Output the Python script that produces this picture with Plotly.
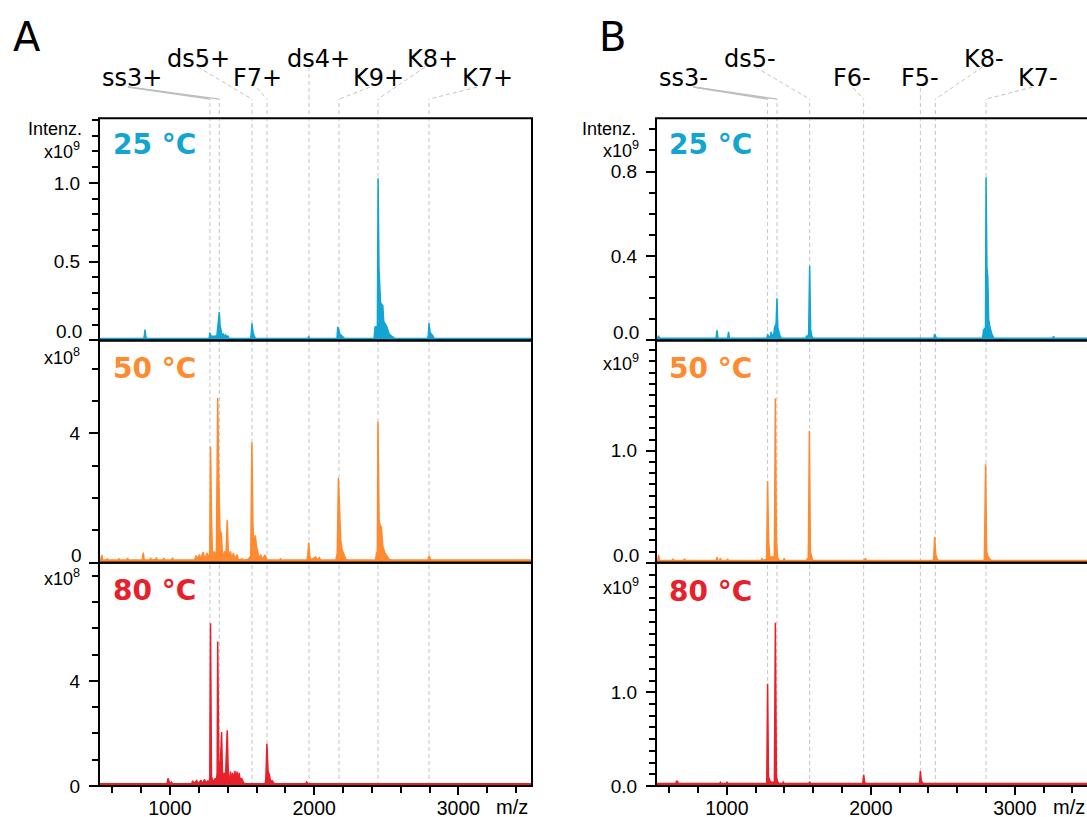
import plotly.graph_objects as go

W, H = 1087, 817          # target picture size
FIG_H = 829               # rendered figure height (page is squeezed to 817 when photographed)

BLUE = "#12a5d4"
ORANGE = "#ff8a30"
RED = "#e8202c"
GRID_GREY = "#c4c4c4"

# ---------------- data ----------------
MZ_RANGE_A = [508, 3510]
MZ_RANGE_B = [508, 3501]
X_TICKS = [1000, 2000, 3000]
X_TICK_TEXT = ["1000", "2000", "3000"]

# Panel A (positive mode) spectra: (m/z, intensity)
A25 = [(508, 0.012), (818, 0.012), (822, 0.03), (827, 0.068), (832, 0.03), (836, 0.012),
       (1268, 0.012), (1273, 0.02), (1277, 0.05), (1282, 0.03), (1300, 0.025), (1325, 0.03),
       (1331, 0.08), (1342, 0.18), (1348, 0.09), (1354, 0.05), (1362, 0.03), (1370, 0.04),
       (1378, 0.025), (1386, 0.035), (1395, 0.02), (1402, 0.03), (1410, 0.012),
       (1558, 0.012), (1563, 0.04), (1569, 0.108), (1576, 0.05), (1584, 0.03), (1592, 0.012),
       (1955, 0.012), (1962, 0.022), (1969, 0.012),
       (2158, 0.012), (2163, 0.085), (2170, 0.07), (2178, 0.04), (2188, 0.03), (2200, 0.02), (2212, 0.012),
       (2415, 0.012), (2422, 0.085), (2438, 0.09), (2443, 1.03), (2449, 0.46), (2456, 0.3),
       (2460, 0.24), (2476, 0.22), (2482, 0.12), (2502, 0.09), (2520, 0.04), (2540, 0.025), (2560, 0.012),
       (2785, 0.012), (2791, 0.03), (2796, 0.108), (2804, 0.05), (2812, 0.04), (2822, 0.03), (2832, 0.012),
       (3510, 0.012)]

A50 = [(508, 0.08), (520, 0.1), (527, 0.24), (534, 0.08), (560, 0.08), (566, 0.13), (572, 0.08),
       (640, 0.08), (646, 0.12), (652, 0.08), (700, 0.08), (706, 0.14), (712, 0.08),
       (760, 0.08), (766, 0.1), (772, 0.08), (808, 0.08), (815, 0.31), (822, 0.08),
       (860, 0.08), (866, 0.15), (872, 0.08), (900, 0.1), (906, 0.16), (912, 0.08),
       (950, 0.08), (958, 0.14), (964, 0.08), (1010, 0.08), (1018, 0.15), (1024, 0.08),
       (1100, 0.08), (1170, 0.08), (1182, 0.22), (1190, 0.1), (1205, 0.25), (1213, 0.1),
       (1230, 0.33), (1240, 0.12), (1258, 0.3), (1268, 0.12), (1276, 0.3), (1281, 3.6),
       (1288, 1.43), (1295, 0.2), (1305, 0.35), (1313, 0.15), (1322, 0.4), (1331, 5.1),
       (1338, 2.7), (1347, 1.0), (1356, 0.9), (1365, 0.2), (1380, 0.35), (1388, 0.15),
       (1397, 1.31), (1404, 0.4), (1412, 0.15), (1420, 0.35), (1428, 0.12), (1440, 0.3),
       (1450, 0.1), (1465, 0.25), (1475, 0.08), (1500, 0.12), (1510, 0.08), (1540, 0.1),
       (1560, 0.2), (1568, 3.73), (1575, 1.2), (1582, 0.5), (1592, 0.85), (1600, 0.5),
       (1610, 0.3), (1618, 0.12), (1630, 0.25), (1640, 0.1), (1660, 0.24), (1672, 0.08),
       (1760, 0.08), (1766, 0.12), (1772, 0.08),
       (1950, 0.08), (1955, 0.2), (1962, 0.62), (1969, 0.2), (1978, 0.08),
       (2010, 0.18), (2020, 0.08), (2035, 0.16), (2045, 0.08),
       (2150, 0.08), (2160, 0.3), (2168, 2.62), (2176, 1.4), (2184, 0.7), (2194, 0.4),
       (2206, 0.25), (2220, 0.1), (2240, 0.08),
       (2425, 0.08), (2432, 0.3), (2438, 0.3), (2442, 4.36), (2450, 1.29), (2458, 1.15),
       (2466, 1.1), (2476, 0.5), (2490, 0.3), (2505, 0.2), (2520, 0.1), (2540, 0.08),
       (2788, 0.08), (2796, 0.21), (2806, 0.1), (2815, 0.08), (3510, 0.08)]

A80 = [(508, 0.08), (980, 0.08), (986, 0.29), (993, 0.2), (1000, 0.08), (1010, 0.15), (1018, 0.08),
       (1150, 0.08), (1158, 0.2), (1165, 0.08), (1185, 0.2), (1195, 0.08), (1215, 0.22), (1225, 0.08),
       (1240, 0.25), (1250, 0.1), (1262, 0.2), (1270, 0.1), (1276, 0.3), (1281, 6.19), (1288, 0.35),
       (1300, 0.15), (1315, 0.3), (1322, 0.15), (1327, 0.5), (1331, 5.5), (1338, 0.96), (1345, 0.3),
       (1358, 2.05), (1365, 0.3), (1377, 0.5), (1384, 0.2), (1397, 2.12), (1405, 0.35),
       (1412, 0.15), (1420, 0.55), (1427, 0.2), (1435, 0.5), (1442, 0.15), (1450, 0.58),
       (1457, 0.2), (1465, 0.55), (1472, 0.18), (1480, 0.5), (1488, 0.15), (1496, 0.3),
       (1510, 0.12), (1525, 0.08),
       (1660, 0.08), (1665, 0.3), (1672, 1.61), (1680, 0.58), (1690, 0.4), (1698, 0.15),
       (1708, 0.2), (1725, 0.08), (1940, 0.08), (1948, 0.15), (1956, 0.08), (3510, 0.08)]

# Panel B (negative mode) spectra: (m/z, intensity)
B25 = [(508, 0.01), (520, 0.01), (526, 0.022), (532, 0.01), (925, 0.01), (932, 0.048), (938, 0.01),
       (1005, 0.01), (1012, 0.04), (1018, 0.01), (1278, 0.01), (1283, 0.03), (1290, 0.015),
       (1302, 0.02), (1307, 0.04), (1314, 0.02), (1326, 0.03), (1331, 0.06), (1342, 0.08),
       (1348, 0.2), (1354, 0.06), (1362, 0.04), (1370, 0.02), (1380, 0.01),
       (1548, 0.01), (1553, 0.02), (1560, 0.015), (1568, 0.03), (1575, 0.354), (1582, 0.05),
       (1590, 0.02), (1600, 0.01), (2436, 0.01), (2443, 0.03), (2452, 0.015), (2462, 0.01),
       (2775, 0.01), (2783, 0.05), (2796, 0.06), (2800, 0.773), (2806, 0.344), (2812, 0.3),
       (2818, 0.1), (2828, 0.06), (2840, 0.03), (2855, 0.01),
       (3262, 0.01), (3268, 0.02), (3274, 0.01), (3510, 0.01)]

B50 = [(508, 0.02), (520, 0.02), (526, 0.07), (533, 0.02), (620, 0.02), (626, 0.035), (632, 0.02),
       (700, 0.02), (706, 0.035), (712, 0.02), (925, 0.02), (932, 0.05), (938, 0.02),
       (950, 0.02), (955, 0.04), (960, 0.02), (1000, 0.02), (1005, 0.035), (1010, 0.02),
       (1238, 0.02), (1244, 0.04), (1250, 0.02), (1276, 0.03), (1283, 0.73), (1290, 0.2),
       (1298, 0.05), (1330, 0.05), (1337, 1.47), (1344, 0.2), (1352, 0.05), (1360, 0.02),
       (1392, 0.02), (1398, 0.04), (1404, 0.02), (1555, 0.02), (1560, 0.04), (1566, 0.02),
       (1573, 1.18), (1580, 0.1), (1588, 0.05), (1596, 0.02), (1955, 0.02), (1962, 0.04),
       (1969, 0.02), (2436, 0.02), (2443, 0.23), (2450, 0.08), (2458, 0.04), (2468, 0.02),
       (2788, 0.02), (2797, 0.88), (2804, 0.1), (2812, 0.06), (2822, 0.04), (2835, 0.02),
       (3510, 0.02)]

B80 = [(508, 0.025), (645, 0.025), (650, 0.05), (657, 0.05), (663, 0.025), (948, 0.025),
       (955, 0.04), (962, 0.025), (995, 0.025), (1001, 0.04), (1007, 0.025), (1277, 0.025),
       (1283, 1.09), (1289, 0.1), (1298, 0.06), (1308, 0.04), (1330, 0.04), (1337, 1.74),
       (1344, 0.1), (1352, 0.05), (1362, 0.025), (1385, 0.025), (1392, 0.04), (1398, 0.025),
       (1568, 0.025), (1575, 0.045), (1582, 0.025), (1944, 0.025), (1950, 0.12), (1957, 0.04),
       (1965, 0.025), (2338, 0.025), (2344, 0.16), (2350, 0.06), (2358, 0.035), (2368, 0.025),
       (3510, 0.025)]

TEMPS = ["25 °C", "50 °C", "80 °C"]

# peak annotations
A_LABELS = ["ss3+", "ds5+", "F7+", "ds4+", "K9+", "K8+", "K7+"]
A_LINE_MZ = [[1277, 1342], [1569], [1673], [1964], [2172], [2442], [2796]]
B_LABELS = ["ss3-", "ds5-", "F6-", "F5-", "K8-", "K7-"]
B_LINE_MZ = [[1283, 1348], [1575], [1950], [2344], [2448], [2800]]

# ---------------- layout helpers ----------------
def py(p):
    return 1 - p / H

def pxp(p):
    return p / W

# label layout: text centre m/z, text row y(px), leader start m/z, leader start y(px)
A_LABEL_POS = [(734, 78, 709, 87), (1196, 59, 1194, 67), (1610, 78, 1603, 88),
               (2030, 59, 1964, 67), (2449, 78, 2387, 87), (2820, 59, 2768, 67),
               (3198, 78, 3129, 87)]
B_LABEL_POS = [(698, 78, 767, 87), (1163, 59, 1198, 67), (1868, 78, 1878, 88),
               (2344, 78, 2344, 88), (2788, 59, 2774, 67), (3163, 78, 3122, 87)]

ROWS_PX = [(118, 340), (340, 562), (562, 785)]
COL_A_PX = (99, 532)
COL_B_PX = (656, 1090)

fig = go.Figure()

TICKFONT = dict(family="Liberation Sans, Arial, sans-serif", size=19, color="black")
XTICKFONT = dict(family="Liberation Sans, Arial, sans-serif", size=19.5, color="black")
SERIES = [
    (A25, "x", "y", BLUE), (A50, "x", "y2", ORANGE), (A80, "x", "y3", RED),
    (B25, "x2", "y4", BLUE), (B50, "x2", "y5", ORANGE), (B80, "x2", "y6", RED),
]
for data, xa, ya, col in SERIES:
    fig.add_trace(go.Scatter(
        x=[d[0] for d in data], y=[d[1] for d in data], xaxis=xa, yaxis=ya,
        mode="lines", line=dict(color=col, width=1.5), fill="tozeroy", fillcolor=col,
        showlegend=False, hoverinfo="skip"))

# y-axis specs: range top, tickvals, ticktext, minor dtick
Y_SPECS = [
    (1.411, [0, 0.5, 1.0], ["", "0.5", "1.0"], 0.1),
    (6.88, [0, 4], ["", "4"], 1),
    (8.50, [0, 4], ["0", "4"], 1),
    (1.053, [0, 0.4, 0.8], ["", "0.4", "0.8"], 0.1),
    (1.987, [0, 1.0], ["", "1.0"], 0.1),
    (2.382, [0, 1.0], ["0.0", "1.0"], 0.125),
]

layout = dict(
    width=W, height=FIG_H, autosize=False, margin=dict(l=0, r=0, t=0, b=0, pad=0),
    paper_bgcolor="white", plot_bgcolor="rgba(0,0,0,0)",
    showlegend=False,
)

xcommon = dict(showgrid=False, zeroline=False, showline=False, ticks="outside",
               ticklen=8, tickwidth=1.5, tickcolor="black", tickfont=XTICKFONT,
               tickmode="array", tickvals=X_TICKS, ticktext=X_TICK_TEXT,
               ticklabelstandoff=-3,
               minor=dict(tickmode="linear", tick0=0, dtick=200, ticks="outside",
                          ticklen=6, tickwidth=1.5, tickcolor="black"))
layout["xaxis"] = dict(xcommon, domain=[pxp(99), pxp(532)], range=MZ_RANGE_A, anchor="y3")
layout["xaxis2"] = dict(xcommon, domain=[pxp(656), 1.0], range=MZ_RANGE_B, anchor="y6")

for i, (top, tv, tt, mdt) in enumerate(Y_SPECS):
    r0, r1 = ROWS_PX[i % 3]
    name = "yaxis" if i == 0 else "yaxis%d" % (i + 1)
    layout[name] = dict(
        domain=[py(r1), py(r0)], range=[0, top], anchor="x" if i < 3 else "x2",
        showgrid=False, zeroline=False, showline=False, ticks="outside",
        ticklen=9, tickwidth=1.5, tickcolor="black", tickfont=TICKFONT,
        tickmode="array", tickvals=tv, ticktext=tt, ticklabelstandoff=5,
        minor=dict(tickmode="linear", tick0=0, dtick=mdt, ticks="outside",
                   ticklen=6, tickwidth=1.5, tickcolor="black"))

shapes = []
annotations = []
TOP_LINE = py(99)
BOT_LINE = py(785)

for labels, lines, pos, xr in [(A_LABELS, A_LINE_MZ, A_LABEL_POS, "x"),
                               (B_LABELS, B_LINE_MZ, B_LABEL_POS, "x2")]:
    for lab, lmz, (tmz, ty, smz, sy) in zip(labels, lines, pos):
        solid = lab.startswith("ss3")
        for m in lmz:
            shapes.append(dict(type="line", xref=xr, yref="paper", x0=m, x1=m,
                               y0=BOT_LINE, y1=TOP_LINE, layer="below",
                               line=dict(color=GRID_GREY, width=1, dash="4px,3px")))
            shapes.append(dict(type="line", xref=xr, yref="paper", x0=smz, x1=m,
                               y0=py(sy), y1=TOP_LINE, layer="below",
                               line=dict(color="#bdbdbd" if solid else GRID_GREY,
                                         width=1.5 if solid else 1,
                                         dash="solid" if solid else "4px,3px")))
        annotations.append(dict(text=lab, xref=xr, yref="paper", x=tmz, y=py(ty),
                                xanchor="center", yanchor="middle", showarrow=False,
                                font=dict(family="DejaVu Sans", size=24, color="black")))

# panel frames
for cx0, cx1 in [COL_A_PX, COL_B_PX]:
    for r0, r1 in ROWS_PX:
        shapes.append(dict(type="rect", xref="paper", yref="paper",
                           x0=pxp(cx0), x1=pxp(cx1), y0=py(r1), y1=py(r0),
                           line=dict(color="black", width=2), layer="above"))

def ann(text, x, y, size, xanchor="right", family="Liberation Sans, Arial, sans-serif",
        color="black", bold=False, yanchor="middle"):
    annotations.append(dict(text="<b>%s</b>" % text if bold else text, xref="paper",
                            yref="paper", x=pxp(x), y=py(y), xanchor=xanchor,
                            yanchor=yanchor, showarrow=False,
                            font=dict(family=family, size=size, color=color)))

# zero labels lifted above the panel boundary
ann("0.0", 84, 331.5, 19)
ann("0", 84, 555, 19)
ann("0.0", 641, 332.5, 19)
ann("0.0", 641, 555, 19)

# intensity unit labels
ann("Intenz.", 84, 129, 18)
ann("x10<sup>9</sup>", 82, 150, 18)
ann("x10<sup>8</sup>", 82, 356, 18)
ann("x10<sup>8</sup>", 82, 577, 18)
ann("Intenz.", 638, 129, 18)
ann("x10<sup>9</sup>", 641, 149, 18)
ann("x10<sup>9</sup>", 641, 362, 18)
ann("x10<sup>9</sup>", 641, 586, 18)

# temperatures
colors = [BLUE, ORANGE, RED]
ys_a = [144, 368, 590]
ys_b = [144, 368, 591]
for t, c, ya, yb in zip(TEMPS, colors, ys_a, ys_b):
    ann(t, 111, ya, 28, xanchor="left", family="DejaVu Sans", color=c, bold=True)
    ann(t, 667, yb, 28, xanchor="left", family="DejaVu Sans", color=c, bold=True)

# m/z labels
ann("m/z", 512, 806, 20, xanchor="center")
ann("m/z", 1069, 806, 20, xanchor="center")

# panel letters
ann("A", 27, 37, 40, xanchor="center", family="DejaVu Sans")
ann("B", 612, 37, 40, xanchor="center", family="DejaVu Sans")

layout["shapes"] = shapes
layout["annotations"] = annotations
fig.update_layout(**layout)

fig.write_html("out.html", config={"responsive": False})
